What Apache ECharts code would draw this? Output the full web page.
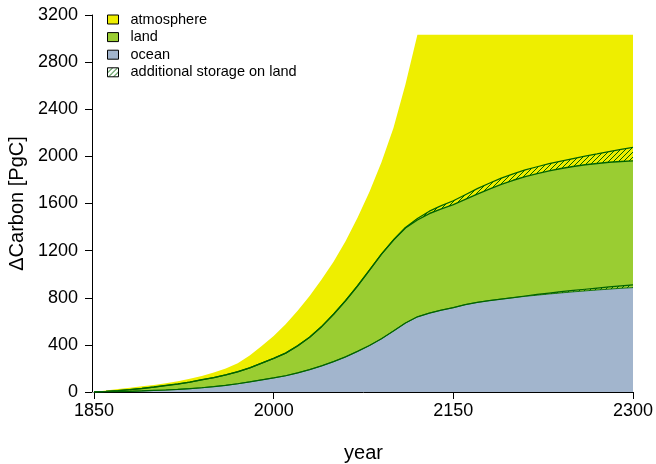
<!DOCTYPE html>
<html>
<head>
<meta charset="utf-8">
<script src="https://cdn.jsdelivr.net/npm/echarts@6/dist/echarts.min.js"></script>
<style>
  html, body { margin: 0; padding: 0; background: #fff; }
  #chart { width: 656px; height: 464px; }
</style>
</head>
<body>
<div id="chart"></div>
<script>
// ---- data ----
const years = [1850,1860,1870,1880,1890,1900,1910,1920,1930,1940,
               1950,1960,1970,1980,1990,2000,2010,2020,2030,2040,
               2050,2060,2070,2080,2090,2100,2110,2120,2130,2140,
               2150,2160,2170,2180,2190,2200,2210,2220,2230,2240,
               2250,2260,2270,2280,2290,2300];

// upper edge of the atmosphere band (total emitted carbon, PgC)
const atmosphereTop = [0,12,25,37,48,60,75,92,112,135,
                       165,200,245,310,390,475,575,690,815,955,
                       1105,1280,1480,1700,1950,2240,2610,3033,3033,3033,
                       3033,3033,3033,3033,3033,3033,3033,3033,3033,3033,
                       3033,3033,3033,3033,3033,3033];

// upper edge of the hatched "additional storage on land" band
const landExtraTop = [0,5,12,20,30,42,55,68,84,104,
                      122,145,172,205,245,285,330,392,465,555,
                      660,775,900,1035,1170,1290,1396,1472,1535,1582,
                      1623,1675,1726,1772,1815,1852,1885,1912,1938,1960,
                      1981,2002,2021,2041,2059,2077];

// upper edge of the land band
const landTop = [0,5,12,20,30,42,55,68,84,104,
                 122,145,172,205,245,285,330,392,465,555,
                 660,775,900,1035,1170,1290,1392,1460,1515,1555,
                 1590,1635,1680,1722,1762,1797,1828,1853,1877,1897,
                 1914,1929,1940,1950,1957,1962];

// upper edge of the thin hatched band above the ocean
const oceanExtraTop = [0,2,4,6,9,13,17,22,28,36,
                       46,57,70,86,103,120,138,162,190,222,
                       258,298,345,395,452,518,585,638,670,695,
                       716,742,761,776,789,801,815,828,840,852,
                       862,872,882,892,901,910];

// upper edge of the ocean band
const oceanTop = [0,2,4,6,9,13,17,22,28,36,
                  46,57,70,86,103,120,138,162,190,222,
                  258,298,345,395,452,518,585,638,670,695,
                  716,742,761,776,789,801,812,822,832,841,
                  850,858,866,873,880,886];

const yTicks = { min: 0, max: 3200, step: 400 };
const xTicks = { min: 1850, max: 2300, step: 150 };

// ---- styles ----
const FONT = "'Liberation Sans', Arial, Helvetica, sans-serif";
const C_ATM = '#EEEE00';
const C_LAND = '#9ACD32';
const C_OCEAN = '#A2B5CD';
const C_DARK = '#006400';

function hatch() {
  const s = 5;
  const c = document.createElement('canvas');
  c.width = s; c.height = s;
  const g = c.getContext('2d');
  g.strokeStyle = C_DARK;
  g.lineWidth = 1;
  g.beginPath();
  g.moveTo(-1, s + 1); g.lineTo(s + 1, -1);
  g.moveTo(-1, 1); g.lineTo(1, -1);
  g.moveTo(s - 1, s + 1); g.lineTo(s + 1, s - 1);
  g.stroke();
  return { image: c, repeat: 'repeat' };
}
const HATCH = hatch();

const pair = arr => years.map((y, i) => [y, arr[i]]);

function areaSeries(name, arr, fill, lineW, lineColor) {
  return {
    name: name,
    type: 'line',
    data: pair(arr),
    showSymbol: false,
    symbol: 'none',
    silent: true,
    itemStyle: { color: fill },
    lineStyle: { width: lineW, color: lineColor || C_DARK, opacity: lineW > 0 ? 1 : 0 },
    areaStyle: { color: fill, opacity: 1 },
    emphasis: { disabled: true }
  };
}

const plain = v => String(v);

const chart = echarts.init(document.getElementById('chart'), null, { renderer: 'canvas' });
chart.setOption({
  animation: false,
  backgroundColor: '#ffffff',
  textStyle: { fontFamily: FONT },
  grid: { left: 94, right: 23, top: 15, bottom: 72, containLabel: false, outerBoundsMode: 'none' },
  legend: {
    orient: 'vertical',
    left: 102,
    top: 7,
    itemWidth: 11,
    itemHeight: 9,
    itemGap: 2.6,
    selectedMode: false,
    textStyle: { fontSize: 14.5, color: '#000', fontFamily: FONT, lineHeight: 12, padding: [0, 0, 0, 7] },
    data: [
      { name: 'atmosphere', icon: 'rect', itemStyle: { color: C_ATM, borderColor: '#000', borderWidth: 1 } },
      { name: 'land', icon: 'rect', itemStyle: { color: C_LAND, borderColor: '#000', borderWidth: 1 } },
      { name: 'ocean', icon: 'rect', itemStyle: { color: C_OCEAN, borderColor: '#000', borderWidth: 1 } },
      { name: 'additional storage on land', icon: 'rect', itemStyle: { color: HATCH, borderColor: '#000', borderWidth: 1 } }
    ]
  },
  xAxis: {
    type: 'value',
    min: xTicks.min, max: xTicks.max, interval: xTicks.step,
    name: 'year', nameLocation: 'middle', nameGap: 51,
    nameTextStyle: { fontSize: 20, color: '#000', fontFamily: FONT },
    axisLine: { show: true, onZero: false, lineStyle: { color: '#000', width: 1 } },
    axisTick: { show: true, inside: false, length: 7, lineStyle: { color: '#000' } },
    axisLabel: { fontSize: 18, color: '#000', margin: 10, fontFamily: FONT, formatter: plain },
    splitLine: { show: false }
  },
  yAxis: {
    type: 'value',
    min: yTicks.min, max: yTicks.max, interval: yTicks.step,
    offset: 2,
    name: 'ΔCarbon [PgC]', nameLocation: 'middle', nameGap: 60, nameRotate: 90,
    nameTextStyle: { fontSize: 20, color: '#000', fontFamily: FONT },
    axisLine: { show: true, lineStyle: { color: '#000', width: 1 } },
    axisTick: { show: true, inside: false, length: 7, lineStyle: { color: '#000' } },
    axisLabel: { fontSize: 18, color: '#000', margin: 14, fontFamily: FONT, formatter: plain },
    splitLine: { show: false }
  },
  series: [
    areaSeries('atmosphere', atmosphereTop, C_ATM, 0),
    areaSeries('additional storage on land', landExtraTop, HATCH, 1.2),
    areaSeries('land', landTop, C_LAND, 1.4),
    areaSeries('additional storage in ocean', oceanExtraTop, HATCH, 1.2),
    areaSeries('ocean', oceanTop, C_OCEAN, 0.8)
  ]
});
</script>
</body>
</html>
